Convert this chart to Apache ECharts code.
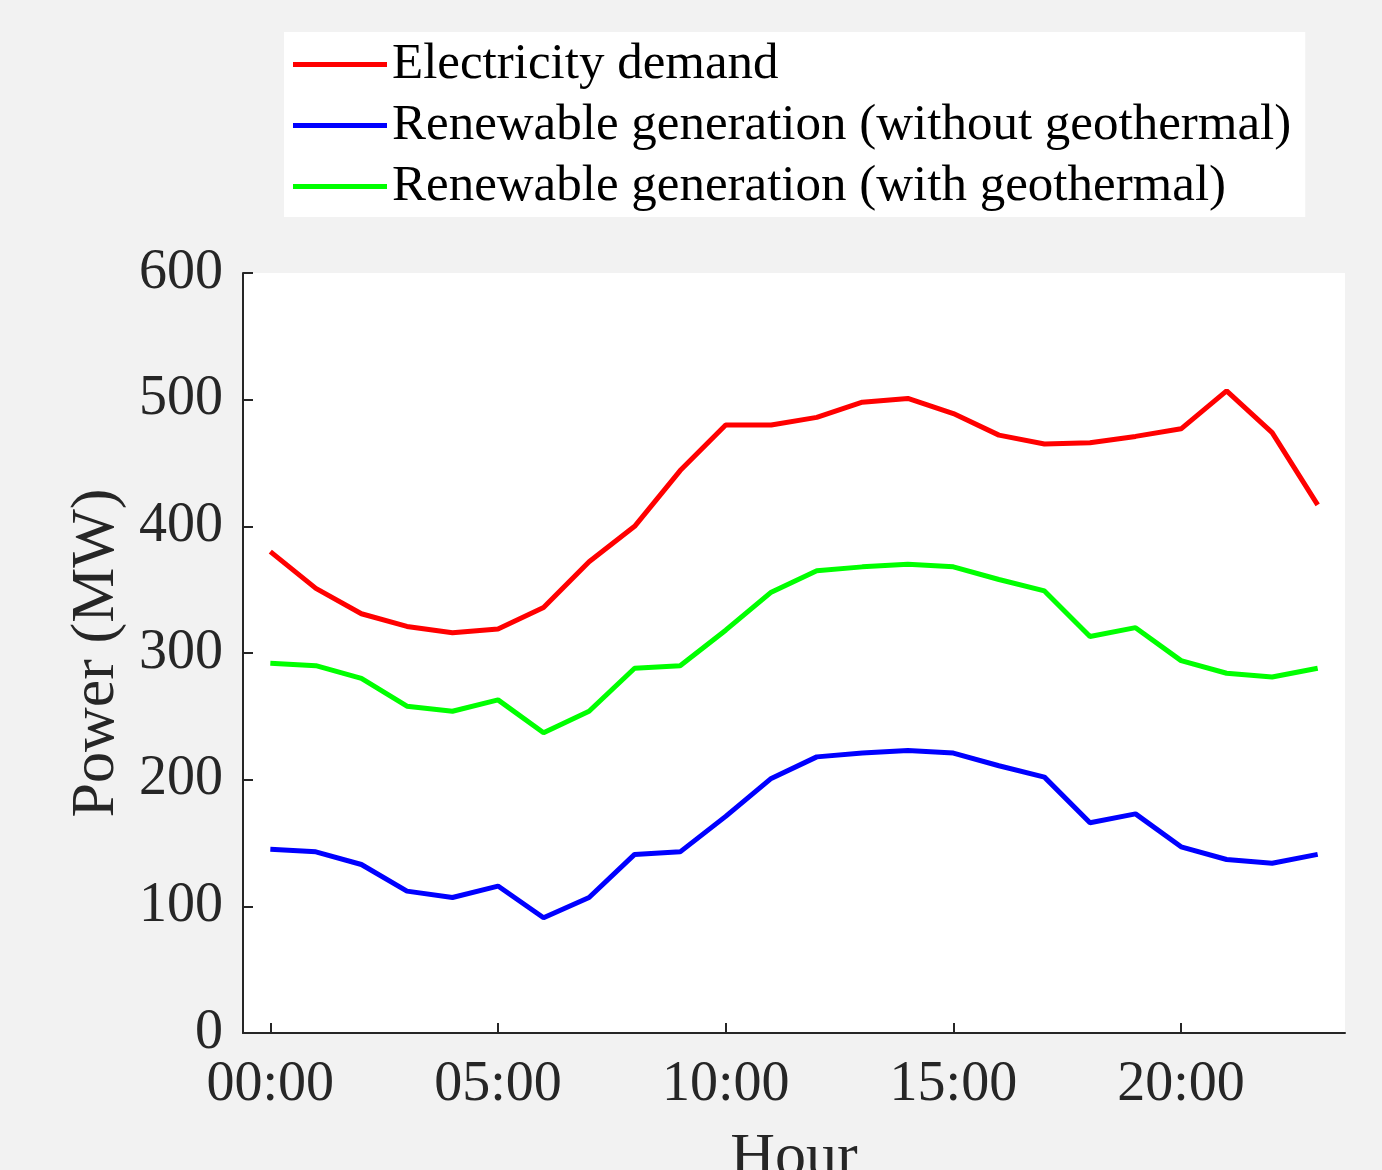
<!DOCTYPE html>
<html>
<head>
<meta charset="utf-8">
<script src="https://cdn.jsdelivr.net/npm/echarts@6/dist/echarts.min.js"></script>
<style>html,body{margin:0;padding:0;background:#f2f2f2;}#c{width:1382px;height:1170px;}</style>
</head>
<body>
<div id="c"></div>
<script>
const hours = [0,1,2,3,4,5,6,7,8,9,10,11,12,13,14,15,16,17,18,19,20,21,22,23];
const demand = [380,351,331,321,316,319,336,372,400,444,480,480,486,498,501,489,472,465,466,471,477,507,474,417];
const renewNoGeo = [145,143,133,112,107,116,91,107,141,143,171,201,218,221,223,221,211,202,166,173,147,137,134,141];
const renewGeo = [292,290,280,258,254,263,237,254,288,290,318,348,365,368,370,368,358,349,313,320,294,284,281,288];
const xTicks = [0,5,10,15,20];
const yTicks = [0,100,200,300,400,500,600];
const seriesNames = ['Electricity demand','Renewable generation (without geothermal)','Renewable generation (with geothermal)'];

const font = '"Liberation Serif","Times New Roman",serif';
const pair = (ys) => hours.map((h,i)=>[h,ys[i]]);
const fmtHour = v => String(v).padStart(2,'0') + ':00';

const chart = echarts.init(document.getElementById('c'));
chart.setOption({
  backgroundColor: '#f2f2f2',
  animation: false,
  grid: {left: 243, right: 37, top: 273, bottom: 137, show: true, backgroundColor: '#ffffff', borderWidth: 0, containLabel: false, outerBoundsMode: 'none'},
  legend: {
    orient: 'vertical', left: 284, top: 32,
    backgroundColor: '#ffffff', borderWidth: 0,
    padding: [7, 14, 5, 9],
    itemWidth: 94, itemHeight: 5, itemGap: 10,
    icon: 'rect',
    textStyle: {fontFamily: font, fontSize: 51, color: '#000000', lineHeight: 50},
    data: seriesNames
  },
  xAxis: {
    type: 'value', min: -0.6, max: 23.6,
    name: 'Hour', nameLocation: 'middle', nameGap: 95,
    nameTextStyle: {fontFamily: font, fontSize: 62, color: '#262626'},
    axisLine: {show: true, onZero: false, lineStyle: {color: '#262626', width: 2}},
    axisTick: {show: true, inside: true, length: 10, customValues: xTicks, lineStyle: {color: '#262626', width: 2}},
    axisLabel: {customValues: xTicks, formatter: fmtHour, fontFamily: font, fontSize: 56, color: '#262626', margin: 24},
    splitLine: {show: false}
  },
  yAxis: {
    type: 'value', min: 0, max: 600, interval: 100,
    name: 'Power (MW)', nameLocation: 'middle', nameGap: 109,
    nameTextStyle: {fontFamily: font, fontSize: 62, color: '#262626'},
    axisLine: {show: true, onZero: false, lineStyle: {color: '#262626', width: 2}},
    axisTick: {show: true, inside: true, length: 10, lineStyle: {color: '#262626', width: 2}},
    axisLabel: {fontFamily: font, fontSize: 56, color: '#262626', margin: 20},
    splitLine: {show: false}
  },
  series: [
    {name: seriesNames[0], type: 'line', data: pair(demand), symbol: 'none', lineStyle: {color: '#ff0000', width: 5}, itemStyle: {color: '#ff0000'}},
    {name: seriesNames[1], type: 'line', data: pair(renewNoGeo), symbol: 'none', lineStyle: {color: '#0000ff', width: 5}, itemStyle: {color: '#0000ff'}},
    {name: seriesNames[2], type: 'line', data: pair(renewGeo), symbol: 'none', lineStyle: {color: '#00ff00', width: 5}, itemStyle: {color: '#00ff00'}}
  ]
});
</script>
</body>
</html>
